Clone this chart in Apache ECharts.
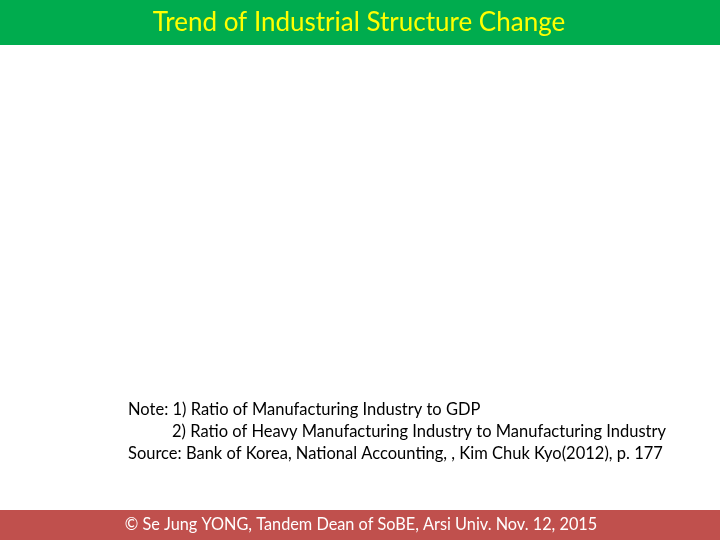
<!DOCTYPE html>
<html>
<head>
<meta charset="utf-8">
<script src="https://cdn.jsdelivr.net/npm/echarts@6/dist/echarts.min.js"></script>
<style>
html,body{margin:0;padding:0;background:#fff;}
#c{width:720px;height:540px;}
</style>
</head>
<body>
<div id="c"></div>
<script>
const titleText = 'Trend of Industrial Structure Change';
const noteLines = [
  'Note: 1) Ratio of Manufacturing Industry to GDP',
  '2) Ratio of Heavy Manufacturing Industry to Manufacturing Industry',
  'Source: Bank of Korea, National Accounting, , Kim Chuk Kyo(2012), p. 177'
];
const noteIndent = [0, 1, 0];
const footerText = '\u00A9 Se Jung YONG, Tandem Dean of SoBE, Arsi Univ. Nov. 12, 2015';
// The chart area of the reference is blank: no categories or series values are shown.
const categories = [];
const seriesValues = [];

const FONT = 'Lato, "Open Sans", sans-serif';
const chart = echarts.init(document.getElementById('c'));
const graphics = [
  {type:'rect', left:0, top:0, shape:{width:720, height:45}, style:{fill:'#00AC4E'}, silent:true},
  {type:'text', x:359, y:23, style:{text:titleText, fill:'#FFFF00', font:'26px '+FONT, textAlign:'center', textVerticalAlign:'middle'}},
  {type:'rect', left:0, top:510, shape:{width:720, height:30}, style:{fill:'#C0504D'}, silent:true},
  {type:'text', x:361, y:525, style:{text:footerText, fill:'#FFFFFF', font:'16.3px '+FONT, textAlign:'center', textVerticalAlign:'middle'}}
];
noteLines.forEach((t,i)=>{
  graphics.push({type:'text', x:noteIndent[i] ? 172 : 128, y:410+22*i, style:{text:t, fill:'#000000', font:'16.5px '+FONT, textAlign:'left', textVerticalAlign:'middle'}});
});
chart.setOption({
  backgroundColor:'#ffffff',
  animation:false,
  graphic:graphics,
  xAxis:{type:'category', data:categories, show:false},
  yAxis:{type:'value', show:false},
  grid:{left:60, right:60, top:60, bottom:160},
  series:[{type:'line', data:seriesValues}]
});
</script>
</body>
</html>
